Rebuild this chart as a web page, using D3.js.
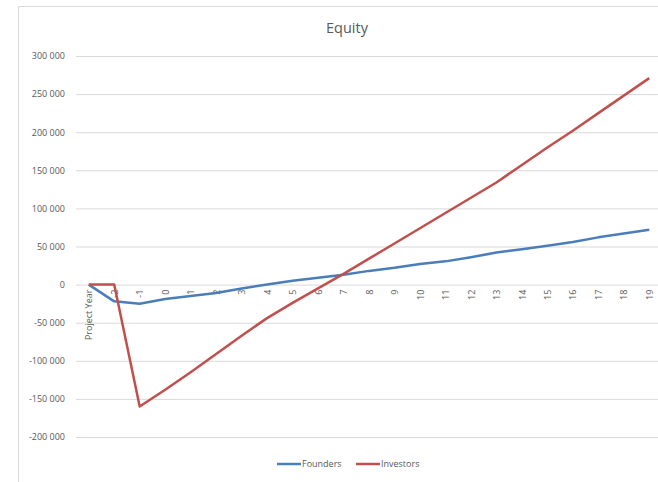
<!DOCTYPE html>
<html>
<head>
<meta charset="utf-8">
<script src="https://d3js.org/d3.v7.min.js"></script>
<style>
  body { margin: 0; background: #fff; }
  text { font-family: "Open Sans", "Noto Sans", sans-serif; fill: #595959; }
</style>
</head>
<body>
<script>
'use strict';

// Equity per project year.
var years = ["Project Year", "-2", "-1", "0", "1", "2", "3", "4", "5", "6", "7",
    "8", "9", "10", "11", "12", "13", "14", "15", "16", "17", "18", "19"];

var founders = [0, -22000, -25000, -19000, -15000, -11000, -5000, 0, 5000, 9000, 13000,
    18000, 22000, 27000, 30500, 36000, 42000, 46500, 51000, 56000, 62000, 67000, 72000];

var investors = [0, 0, -160000, -138000, -115000, -91000, -67000, -44000, -24000, -5000, 14000,
    34000, 54000, 74000, 94000, 114000, 134000, 157000, 180000, 202000, 225000, 248000, 271000];

var yticks = [-200000, -150000, -100000, -50000, 0, 50000, 100000, 150000, 200000, 250000, 300000];

var series = [
    { name: "Founders", values: founders, color: "#4a7ebb" },
    { name: "Investors", values: investors, color: "#c0504d" }
];

var W = 658, H = 482;
var margin = { left: 76, right: -4, top: 56, bottom: 45 };
var width = W - margin.left - margin.right;
var height = H - margin.top - margin.bottom;

var svg = d3.select("body").append("svg")
    .attr("width", W)
    .attr("height", H);

// chart frame (only top and left edges fall inside the picture)
svg.append("path")
    .attr("d", "M18.5," + H + "V6.5H" + W)
    .attr("fill", "none")
    .attr("stroke", "#d9d9d9")
    .attr("stroke-width", 1);

svg.append("text")
    .attr("x", 347)
    .attr("y", 33)
    .attr("text-anchor", "middle")
    .style("font-size", "14.5px")
    .text("Equity");

var g = svg.append("g")
    .attr("transform", "translate(" + margin.left + "," + margin.top + ")");

var xscale = d3.scalePoint().domain(years).range([0, width]).padding(0.5);
var yscale = d3.scaleLinear().domain([-200000, 300000]).range([height, 0]);

var fmt = d3.formatLocale({ decimal: ",", thousands: " ", grouping: [3], currency: ["", ""] })
    .format(",d");

// grid lines
g.append("g").attr("class", "grid")
    .call(d3.axisLeft(yscale).tickValues(yticks).tickFormat("").tickSize(-width))
    .call(function(s) {
        s.select(".domain").remove();
        s.selectAll("line").attr("stroke", "#d9d9d9").attr("stroke-width", 1);
    });

// y labels
g.append("g")
    .call(d3.axisLeft(yscale).tickValues(yticks).tickSize(0).tickPadding(11)
        .tickFormat(function(d) { return fmt(d).replace("−", "-"); }))
    .call(function(s) {
        s.select(".domain").remove();
        s.selectAll("text").style("font-size", "9px").attr("fill", "#595959");
    });

// x labels, rotated, hanging under the zero line
g.append("g")
    .attr("transform", "translate(0," + yscale(0) + ")")
    .call(d3.axisBottom(xscale).tickSize(0))
    .call(function(s) {
        s.select(".domain").remove();
        s.selectAll("text")
            .style("font-size", "9px")
            .attr("fill", "#595959")
            .attr("text-anchor", "end")
            .attr("transform", "rotate(-90)")
            .attr("x", -5)
            .attr("y", 0)
            .attr("dy", "0.35em");
    });

var line = d3.line()
    .x(function(d, i) { return xscale(years[i]); })
    .y(function(d) { return yscale(d); });

series.forEach(function(s) {
    g.append("path")
        .datum(s.values)
        .attr("fill", "none")
        .attr("stroke", s.color)
        .attr("stroke-width", 2.5)
        .attr("stroke-linejoin", "round")
        .attr("d", line);
});

// legend
var legendX = [277, 356];
series.forEach(function(s, i) {
    var lg = svg.append("g").attr("transform", "translate(" + legendX[i] + ",464)");
    lg.append("line")
        .attr("x1", 0).attr("x2", 24)
        .attr("stroke", s.color)
        .attr("stroke-width", 2.5);
    lg.append("text")
        .attr("x", 25)
        .attr("dy", "0.35em")
        .style("font-size", "9px")
        .text(s.name);
});
</script>
</body>
</html>
